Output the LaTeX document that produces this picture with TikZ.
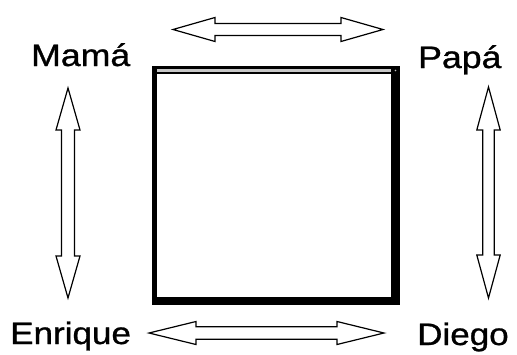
\documentclass[tikz,border=0pt]{standalone}
\usepackage{graphicx}
\usepackage{fontspec}
\setmainfont{Liberation Sans}
\newfontfamily\personfont[FakeBold=0.9]{Liberation Sans}
\newcommand{\HBlockArrow}[6]{% x1,x2,y,headlen,headhalf,shafthalf
  \draw[blockarrow] (#1,#3) -- (#1+#4,#3-#5) -- (#1+#4,#3-#6) -- (#2-#4,#3-#6) -- (#2-#4,#3-#5)
    -- (#2,#3) -- (#2-#4,#3+#5) -- (#2-#4,#3+#6) -- (#1+#4,#3+#6) -- (#1+#4,#3+#5) -- cycle;}
\newcommand{\VBlockArrow}[6]{% y1,y2,x,headlen,headhalf,shafthalf
  \draw[blockarrow] (#3,#1) -- (#3-#5,#1+#4) -- (#3-#6,#1+#4) -- (#3-#6,#2-#4) -- (#3-#5,#2-#4)
    -- (#3,#2) -- (#3+#5,#2-#4) -- (#3+#6,#2-#4) -- (#3+#6,#1+#4) -- (#3+#5,#1+#4) -- cycle;}
\begin{document}
\begin{tikzpicture}[x=1pt,y=-1pt,
  blockarrow/.style={draw=black,fill=white,line width=1.2pt,line join=miter},
  personlabel/.style={anchor=base west,inner sep=0pt,font=\personfont\fontsize{31}{31}\selectfont}]
\useasboundingbox[fill=white] (0,0) rectangle (517,354);
% square with shadow
\fill[black] (152,66) rectangle (400,305);
\fill[white] (157,74) rectangle (391,297);
\fill[black!22] (157,69) rectangle (391,71.6);
\fill[black!25] (395.5,70.5) circle (0.9);
% labels
\node[personlabel] (mama) at (31,66) {\scalebox{1.15}[1]{Mamá}};
\node[personlabel] (papa) at (418,68) {\scalebox{1.15}[1]{Papá}};
\node[personlabel] (enrique) at (10,344) {\scalebox{1.13}[1]{Enrique}};
\node[personlabel] (diego) at (417,345) {\scalebox{1.13}[1]{Diego}};
% block arrows
\HBlockArrow{173}{383}{29.5}{42}{12}{6}
\HBlockArrow{149}{384}{333}{47}{11.5}{6.2}
\VBlockArrow{88}{298}{68}{42}{12}{6.5}
\VBlockArrow{87}{298}{488.5}{43}{11.7}{5.7}
\end{tikzpicture}
\end{document}
